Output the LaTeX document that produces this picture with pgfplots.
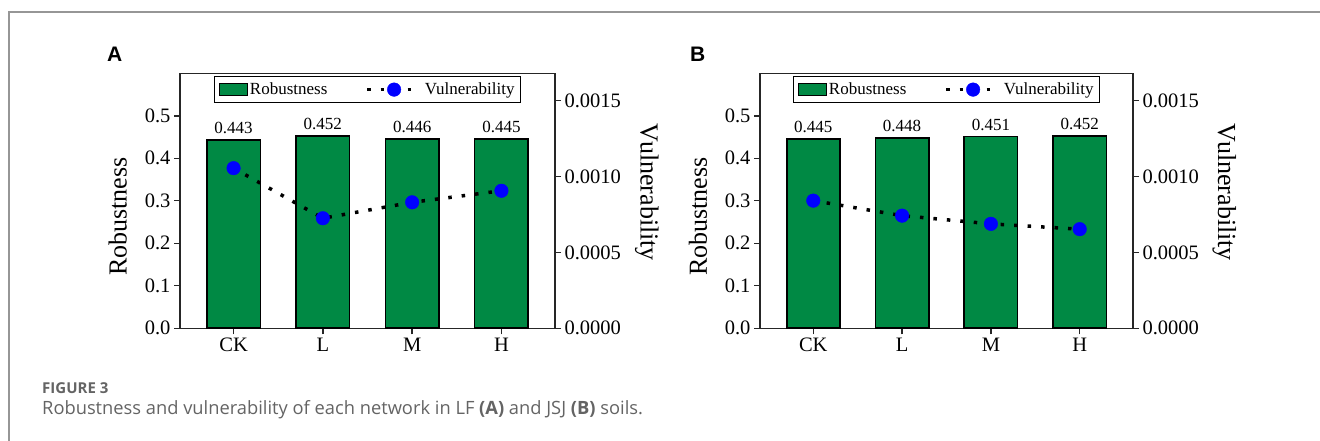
\documentclass[border=0pt]{standalone}
\usepackage{fontspec}
\setmainfont{Liberation Serif}
\newfontfamily\capfont{Open Sans}
\newfontfamily\panelfont{Liberation Sans}
\usepackage{pgfplots}
\pgfplotsset{compat=1.18}
\definecolor{barg}{RGB}{0,137,68}
\definecolor{frameg}{RGB}{150,150,150}
\definecolor{capg}{RGB}{100,100,100}

\pgfplotsset{
  common/.style={
    scale only axis, height=255pt,
    xmin=-0.6, xmax=3.6,
    tick align=outside, major tick length=6pt,
    tick style={line width=1.4pt, black!85},
    axis line style={line width=1.4pt, black!85},
    ticklabel style={font=\fontsize{20.5}{24}\selectfont},
    /pgf/number format/assume math mode=true,
    clip=false,
  },
  leftax/.style={
    common,
    ymin=0, ymax=0.6,
    xtick={0,1,2,3}, xticklabels={CK,L,M,H}, xtick pos=bottom,
    ytick={0,0.1,0.2,0.3,0.4,0.5}, ytick pos=left,
    yticklabel style={/pgf/number format/.cd, fixed, fixed zerofill, precision=1},
    ylabel={Robustness},
    ylabel style={font=\fontsize{26}{30}\selectfont, at={(axis description cs:-0.166,0.438)}, anchor=center},
  },
  rightax/.style={
    common,
    ymin=0, ymax=0.00168,
    axis x line=none, axis y line*=right,
    ytick={0,0.0005,0.001,0.0015},
    scaled y ticks=false,
    yticklabel style={/pgf/number format/.cd, fixed, fixed zerofill, precision=4},
    ylabel={Vulnerability},
    ylabel style={font=\fontsize{26}{30}\selectfont, rotate=180, at={(axis description cs:1.245,0.533)}, anchor=center},
    legend style={at={(0.5,0.99)}, anchor=north, legend columns=2,
      draw=black, line width=1.2pt, fill=white,
      font=\fontsize{17}{19}\selectfont, inner xsep=4pt, inner ysep=4.5pt,
      /tikz/every even column/.append style={column sep=36pt}},
  },
  barstyle/.style={ybar, bar width=0.6, fill=barg, draw=black, line width=1.7pt,
    nodes near coords={\pgfmathprintnumber[fixed,fixed zerofill,precision=3,assume math mode=true]{\pgfplotspointmeta}},
    nodes near coords style={font=\fontsize{17}{19}\selectfont, black, inner sep=2pt, yshift=3.5pt}},
  vulstyle/.style={black, line width=3.5pt, dash pattern=on 3.5pt off 10pt,
    mark=*, mark size=6.8pt, mark options={solid, fill=blue, draw=blue, line width=0.4pt}},
  barleg/.style={fill=barg, draw=black, line width=1.4pt,
    legend image code/.code={\draw[##1] (0pt,-5.8pt) rectangle (28pt,5.8pt);}},
  vulleg/.style={legend image code/.code={\draw[##1, mark repeat=2, mark phase=2] plot coordinates {(0pt,0pt) (27pt,0pt) (54pt,0pt)};}},
}

\begin{document}
\begin{tikzpicture}
\useasboundingbox (0,0) rectangle (1320pt,441pt);
\fill[white] (0,0) rectangle (1320pt,441pt);
\draw[frameg, line width=1.3pt] (1321pt,429pt) -- (9pt,429pt) -- (9pt,-1pt);

% Panel A
\begin{axis}[leftax, width=375pt, at={(180pt,112.7pt)}, anchor=south west]
\addplot[barstyle] coordinates {(0,0.443) (1,0.452) (2,0.446) (3,0.445)};
\end{axis}
\begin{axis}[rightax, width=375pt, at={(180pt,112.7pt)}, anchor=south west]
\addlegendimage{barleg}
\addlegendentry{Robustness}
\addplot[vulstyle, vulleg]
  coordinates {(0,0.001055) (1,0.000725) (2,0.000830) (3,0.000906)};
\addlegendentry{Vulnerability}
\end{axis}

% Panel B
\begin{axis}[leftax, width=373pt, at={(760pt,112.7pt)}, anchor=south west]
\addplot[barstyle] coordinates {(0,0.445) (1,0.448) (2,0.451) (3,0.452)};
\end{axis}
\begin{axis}[rightax, width=373pt, at={(760pt,112.7pt)}, anchor=south west]
\addlegendimage{barleg}
\addlegendentry{Robustness}
\addplot[vulstyle, vulleg]
  coordinates {(0,0.000841) (1,0.000742) (2,0.000688) (3,0.000653)};
\addlegendentry{Vulnerability}
\end{axis}

% Panel letters
\node[anchor=base west, inner sep=0, font=\panelfont\bfseries\fontsize{21}{24}\selectfont] at (107pt,379pt) {A};
\node[anchor=base west, inner sep=0, font=\panelfont\bfseries\fontsize{21}{24}\selectfont] at (690pt,379pt) {B};

% Caption
\node[anchor=base west, inner sep=0, text=capg, font=\capfont\bfseries\fontsize{15}{18}\selectfont] at (42pt,47pt) {FIGURE 3};
\node[anchor=base west, inner sep=0, text=capg, font=\capfont\fontsize{18.3}{21}\selectfont] at (42pt,26pt) {Robustness and vulnerability of each network in LF \textbf{(A)} and JSJ \textbf{(B)} soils.};
\end{tikzpicture}
\end{document}
